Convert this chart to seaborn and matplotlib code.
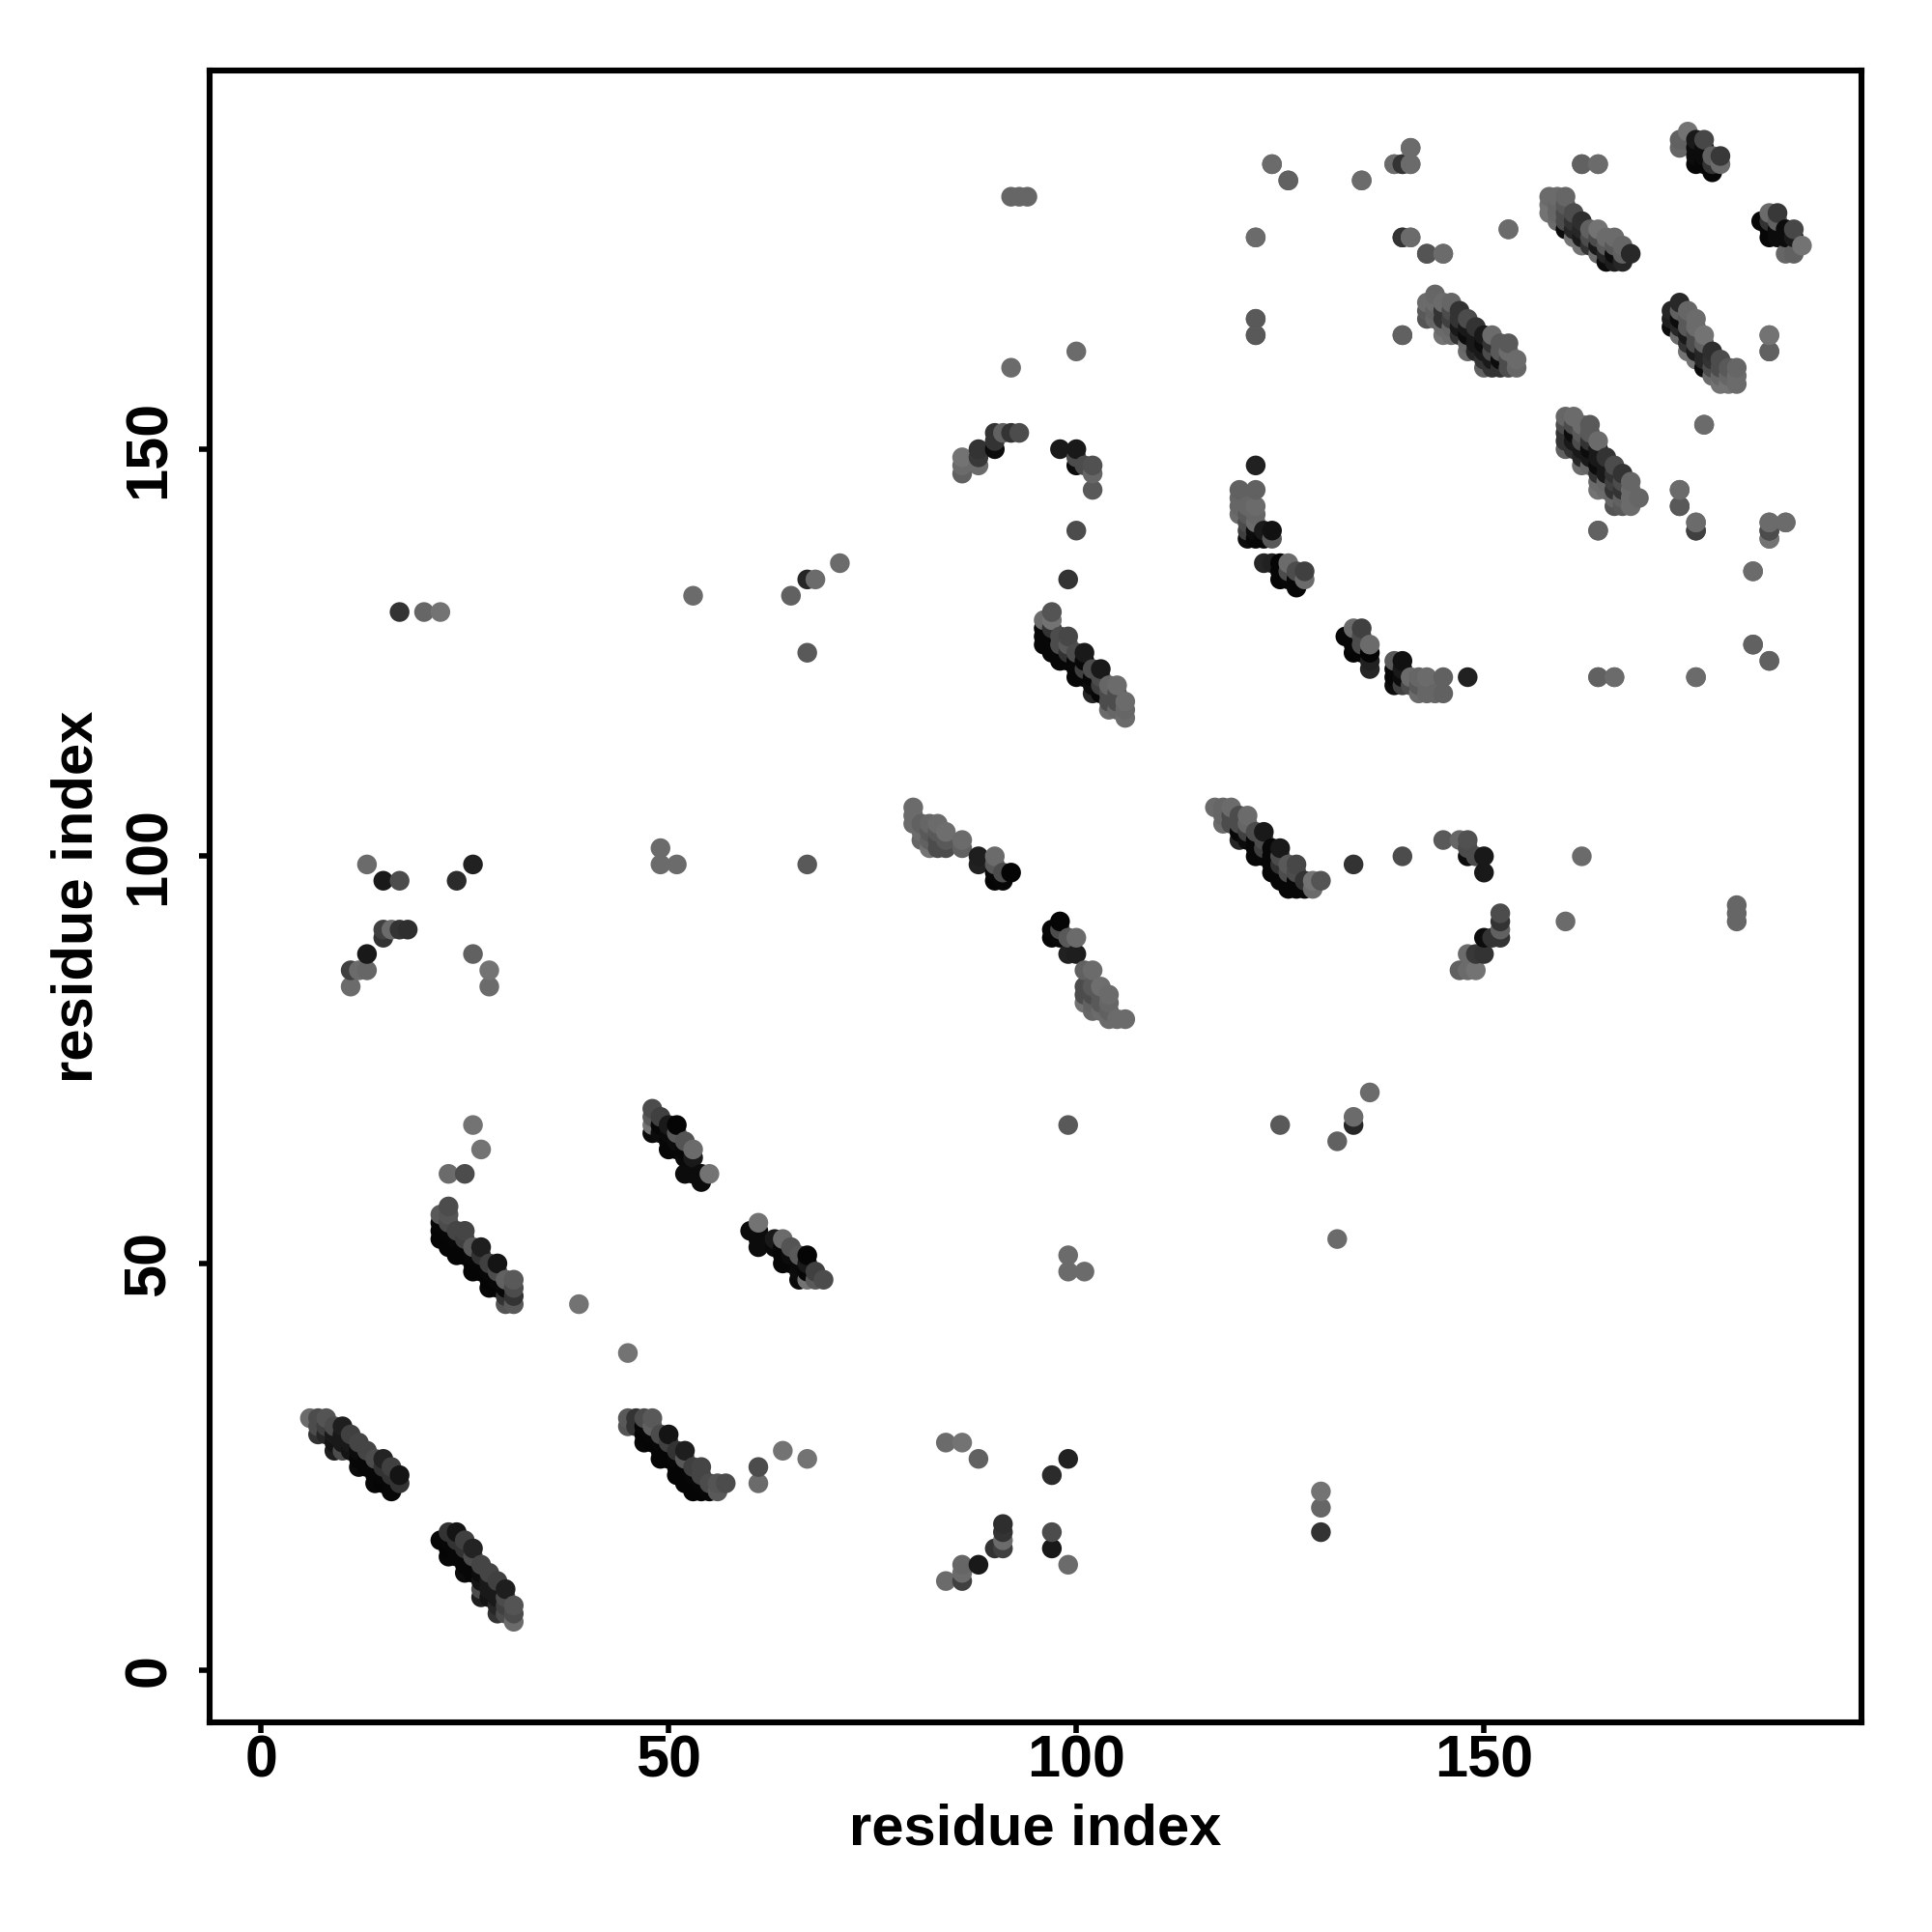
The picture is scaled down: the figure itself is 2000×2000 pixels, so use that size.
import pandas as pd
import matplotlib.pyplot as plt
import seaborn as sns

# === Contacts (upper half only, the map is symmetric) ===
# strand 6-17 / 22-31
a_i = [6, 7,7,7, 8,8,8, 9,9,9,9, 10,10,10,10, 11,11,11, 12,12,12,12, 13,13,13, 14,14,14,14, 15,15,15,15, 16,16,16,16, 17,17]
a_j = [31, 29,30,31, 29,30,31, 27,28,29,30, 27,28,29,30, 27,28,29, 25,26,27,28, 25,26,27, 23,24,25,26, 23,24,25,26, 22,23,24,25, 23,24]
a_s = [.42, .2,.3,.3, .15,.25,.33, .12,.08,.1,.3, .3,.1,.1,.12, .08,.1,.25, .05,.03,.05,.27, .03,.03,.27, .03,.03,.03,.3, .02,.03,.2,.14, .03,.03,.2,.25, .2,.08]

# strand 22-31 / 45-57
c_i = [22,22,22,22, 23,23,23,23,23,23, 24,24,24,24, 25,25,25,25, 26,26,26,26, 27,27,27,27, 28,28,28,28, 29,29,29,29, 30,30,30,30, 31,31,31,31]
c_j = [53,54,55,56, 52,53,54,55,56,57, 51,52,53,54, 51,52,53,54, 49,50,51,52, 49,50,51,52, 47,48,49,50, 47,48,49,50, 45,46,47,48, 45,46,47,48]
c_s = [.02,.02,.03,.35, .02,.02,.03,.3,.33,.3, .02,.02,.03,.27, .02,.02,.25,.27, .02,.02,.03,.35, .02,.02,.2,.12, .03,.02,.03,.25, .02,.03,.3,.08, .33,.2,.03,.38, .35,.2,.3,.35]

# strand 48-55 / 60-69
d_i = [48,48,48,48, 49,49,49, 50,50,50,50, 51,51,51,51, 52,52,52,52, 53,53,53, 54,54, 55]
d_j = [66,67,68,69, 66,67,68, 64,65,66,67, 64,65,66,67, 61,63,64,65, 61,63,64, 60,61, 61]
d_s = [.04,.45,.35,.3, .05,.03,.25, .03,.03,.04,.1, .03,.05,.35,.02, .05,.04,.03,.33, .05,.1,.42, .05,.05, .45]

# strand 80-92 / 97-106
e_i = [80,80,80, 81,81,81, 82,82,82,82, 83,83,83,83, 84,84,84, 86,86, 88,88, 90,90,90,90, 91,91, 92]
e_j = [104,105,106, 102,103,104, 101,102,103,104, 101,102,103,104, 101,102,103, 101,102, 99,100, 97,98,99,100, 97,98, 98]
e_s = [.42,.42,.42, .4,.42,.38, .45,.38,.35,.4, .3,.3,.35,.42, .3,.35,.43, .38,.42, .13,.12, .02,.03,.35,.42, .03,.3, .02]

# strand 96-106 / 117-130
f_i = [96,96,96,96, 97,97,97,97,97,97, 98,98,98,98, 99,99,99,99, 100,100,100,100, 101,101,101,101, 102,102,102,102, 103,103,103,103, 104,104,104,104, 105,105,105,105, 106,106,106]
f_j = [126,127,128,129, 125,126,127,128,129,130, 124,125,126,127, 124,125,126,127, 122,123,124,125, 122,123,124,125, 120,121,122,123, 120,121,122,123, 118,119,120,121, 118,119,120,121, 117,118,119]
f_s = [.03,.03,.03,.42, .03,.03,.03,.2,.45,.33, .03,.03,.3,.3, .03,.2,.35,.28, .03,.03,.03,.3, .03,.25,.03,.1, .15,.05,.03,.3, .03,.25,.3,.1, .42,.3,.3,.4, .4,.3,.3,.42, .42,.4,.42]

# hairpin 86-93 / 147-152 and 98-102 / 145-150
g_i = [86,86,86, 88,88,88, 90,90,90, 91, 92, 93, 98, 100,100,100, 101, 102,102,102]
g_j = [147,148,149, 148,149,150, 150,151,152, 152, 152, 152, 150, 148,149,150, 148, 145,147,148]
g_s = [.38,.42,.45, .42,.22,.2, .05,.2,.2, .38, .2, .3, .1, .05,.3,.1, .3, .35,.4,.32]

# strand 120-128 / 133-148
h_i = [120,120,120,120, 121,121,121,121,121, 122,122,122,122,122,122,122, 123,123, 124,124, 123, 124, 125,125,125, 126,126,126, 127,127,127, 128,128]
h_j = [142,143,144,145, 139,140,141,142,143, 139,140,141,142,143,145,148, 139,140, 139,140, 136, 136, 134,135,136, 134,135,136, 133,134,135, 134,135]
h_s = [.42,.4,.4,.38, .05,.25,.3,.35,.4, .03,.05,.42,.4,.42,.38,.13, .03,.1, .35,.07, .15, .13, .02,.02,.02, .03,.3,.42, .03,.03,.3, .42,.25]

# strand 160-169 / 143-154
k_i = [160,160,160,160,160, 161,161,161,161,161, 162,162,162,162,162,162, 163,163,163,163,163,163, 164,164,164,164,164,164,164, 165,165,165,165,165, 166,166,166,166,166,166, 167,167,167,167,167, 168,168,168,168, 169]
k_j = [150,151,152,153,154, 150,151,152,153,154, 148,149,150,151,152,153, 148,149,150,151,152,153, 145,146,147,148,149,150,151, 145,146,147,148,149, 143,144,145,146,147,148, 143,144,145,146,147, 143,144,145,146, 144]
k_s = [.38,.2,.2,.3,.4, .2,.1,.05,.3,.42, .42,.15,.1,.3,.35,.42, .4,.1,.05,.2,.35,.35, .45,.42,.2,.05,.1,.1,.42, .42,.4,.1,.1,.2, .33,.4,.2,.25,.2,.3, .35,.38,.2,.3,.2, .42,.42,.42,.4, .4]

# strand 158-168 / 173-181
l_i = [158,158,158, 159,159,159,159, 160,160,160,160,160, 161,161,161,161, 162,162,162,162, 163,163,163, 164,164,164,164, 165,165,165,165, 166,166,166,166, 167,167,167, 168]
l_j = [179,180,181, 178,179,180,181, 177,178,179,180,181, 176,177,178,179, 175,176,177,178, 175,176,177, 174,175,176,177, 173,174,175,176, 173,174,175,176, 173,174,175, 174]
l_s = [.45,.45,.42, .42,.4,.4,.42, .05,.3,.3,.35,.4, .45,.15,.2,.3, .45,.1,.15,.18, .2,.3,.38, .42,.1,.3,.45, .05,.15,.35,.42, .12,.05,.35,.42, .15,.38,.4, .16]

# strand 174-179 / 184-189
m_i = [174,174, 175, 176,176,176,176, 177,177,177,177, 178,178,178, 179,179]
m_j = [187,188, 189, 185,186,187,188, 185,186,187,188, 184,185,186, 185,186]
m_s = [.4,.38, .45, .03,.05,.05,.1, .03,.05,.05,.28, .03,.2,.38, .42,.22]

# isolated contacts
s_i = [11,11,12,13,13,15,15,16,17,18,15,17,13,24,26,28,28,26, 17,20,22, 23,25,27,26, 39, 49,49,51, 53,65,67,68,71,67,67,
       92,100,92,93,94, 99,100, 122,122,122,124,126,135,139,140,141,141,140,141,143,145,140,153, 162,164,
       174,174,176,176,185,185,185,187,183,183,185,177,185,185,164,164,166,176]
s_j = [84,86,86,86,88,90,91,91,91,91,97,97,99,97,99,84,86,88, 130,130,130, 61,61,64,67, 45, 99,101,99, 132,132,134,134,136,125,99,
       160,162,181,181,181, 134,140, 176,166,164,185,183,183,185,185,185,187,176,176,174,174,164,177, 185,185,
       145,143,141,140,141,140,139,141,135,126,124,153,164,162,140,122,122,122]
s_s = [.42,.25,.42,.4,.1,.2,.25,.42,.2,.18,.1,.3,.42,.17,.13,.42,.45,.38, .2,.4,.45, .42,.3,.45,.45, .45, .42,.42,.42, .42,.38,.15,.42,.42,.35,.35,
       .42,.42,.4,.4,.4, .2,.3, .42,.42,.38,.38,.38,.42,.45,.3,.42,.42,.25,.42,.35,.42,.38,.42, .38,.45,
       .42,.33,.42,.2,.42,.2,.42,.42,.42,.38,.42,.42,.42,.38,.38,.35,.35,.42]

res_i = a_i + c_i + d_i + e_i + f_i + g_i + h_i + k_i + l_i + m_i + s_i
res_j = a_j + c_j + d_j + e_j + f_j + g_j + h_j + k_j + l_j + m_j + s_j
shade = a_s + c_s + d_s + e_s + f_s + g_s + h_s + k_s + l_s + m_s + s_s

x_ticks = [0, 50, 100, 150]
y_ticks = [0, 50, 100, 150]

# === Both halves of the map, later residues drawn on top ===
df = pd.DataFrame({"x": res_i + res_j, "y": res_j + res_i, "shade": shade + shade})
df = df.sort_values(["x", "y"], kind="mergesort")

sns.set_style("white")
plt.rcParams["font.family"] = ["Liberation Sans", "DejaVu Sans"]
plt.rcParams["font.weight"] = "bold"

fig = plt.figure(figsize=(10, 10), dpi=200)
ax = fig.add_axes([217 / 2000, 1 - 1783 / 2000, 1710 / 2000, 1710 / 2000])
sns.scatterplot(data=df, x="x", y="y", hue="shade", palette="gray", hue_norm=(0, 1),
                s=54, linewidth=0, legend=False, ax=ax)

ax.set_xlim(-6.3, 196.3)
ax.set_ylim(-6.36, 196.5)
ax.set_xticks(x_ticks)
ax.set_yticks(y_ticks)
ax.tick_params(axis="both", length=4, width=2.0, labelsize=22, color="black", labelcolor="black", bottom=True, left=True)
ax.tick_params(axis="x", pad=0.5)
ax.tick_params(axis="y", pad=8)
plt.setp(ax.get_yticklabels(), rotation=90, va="center")
ax.set_xlabel("residue index", fontsize=21.5, fontweight="bold", color="black", labelpad=5)
ax.set_ylabel("residue index", fontsize=21.5, fontweight="bold", color="black", labelpad=7)
for side in ax.spines.values():
    side.set_linewidth(2.2)
    side.set_color("black")

fig.savefig("out.png", dpi=200)
